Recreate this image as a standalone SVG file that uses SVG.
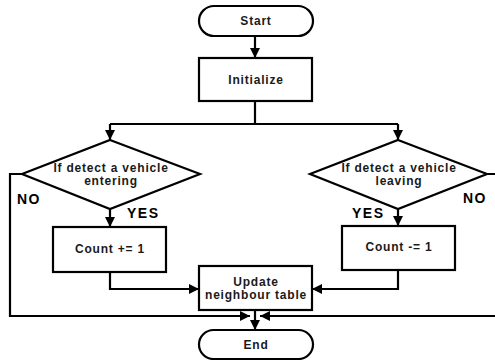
<svg xmlns="http://www.w3.org/2000/svg" width="495" height="360" viewBox="0 0 495 360">
<style>
.shape{fill:#fff;stroke:#000;stroke-width:2.2}
.line{fill:none;stroke:#000;stroke-width:2.2}
.t{font-family:"Liberation Sans",Arial,sans-serif;font-weight:bold;font-size:12px;letter-spacing:0.8px;fill:#1a1a1a;text-anchor:middle}
.lbl{font-family:"Liberation Sans",Arial,sans-serif;font-weight:bold;font-size:14px;letter-spacing:1.5px;fill:#000}
</style>
<defs>
<marker id="arr" viewBox="0 0 10 10" refX="10" refY="5" markerWidth="10" markerHeight="10" markerUnits="userSpaceOnUse" orient="auto">
<path d="M0,0 L10,5 L0,10 Z" fill="#000"/>
</marker>
</defs>
<rect width="495" height="360" fill="#fff"/>
<g id="connectors">
<path class="line" d="M255,36 V58" marker-end="url(#arr)"/>
<path class="line" d="M255,101 V124"/>
<path class="line" d="M110,124 H398"/>
<path class="line" d="M110,124 V140" marker-end="url(#arr)"/>
<path class="line" d="M398,124 V140" marker-end="url(#arr)"/>
<path class="line" d="M110,209 V227" marker-end="url(#arr)"/>
<path class="line" d="M398,209 V226" marker-end="url(#arr)"/>
<path class="line" d="M22,174 H10 V316 H250" marker-end="url(#arr)"/>
<path class="line" d="M487,174 H500 V316 H260" marker-end="url(#arr)"/>
<path class="line" d="M110,272 V289 H199" marker-end="url(#arr)"/>
<path class="line" d="M398,270 V289 H312" marker-end="url(#arr)"/>
<path class="line" d="M255,310 V330" marker-end="url(#arr)"/>
</g>
<g id="start">
<rect class="shape" x="199" y="6" width="114" height="30" rx="15"/>
<text class="t" x="256" y="25">Start</text>
</g>
<g id="initialize">
<rect class="shape" x="199" y="58" width="113" height="43"/>
<text class="t" x="256" y="84">Initialize</text>
</g>
<g id="detect-entering">
<polygon class="shape" points="110,140 200,174 110,209 22,174"/>
<text class="t" x="111" y="172">If detect a vehicle</text>
<text class="t" x="111" y="185">entering</text>
</g>
<g id="detect-leaving">
<polygon class="shape" points="398,140 487,174 398,209 310,174"/>
<text class="t" x="399" y="172">If detect a vehicle</text>
<text class="t" x="399" y="185">leaving</text>
</g>
<g id="count-plus">
<rect class="shape" x="53" y="227" width="113" height="45"/>
<text class="t" x="110" y="253">Count += 1</text>
</g>
<g id="count-minus">
<rect class="shape" x="342" y="226" width="113" height="44"/>
<text class="t" x="399" y="251">Count -= 1</text>
</g>
<g id="update">
<rect class="shape" x="199" y="266" width="113" height="44"/>
<text class="t" x="256" y="286">Update</text>
<text class="t" x="256" y="299">neighbour table</text>
</g>
<g id="end">
<rect class="shape" x="199" y="330" width="114" height="29" rx="14.5"/>
<text class="t" x="256" y="349">End</text>
</g>
<g id="labels">
<text class="lbl" x="17" y="204">NO</text>
<text class="lbl" x="127" y="218">YES</text>
<text class="lbl" x="352" y="218">YES</text>
<text class="lbl" x="463" y="203">NO</text>
</g>
</svg>
